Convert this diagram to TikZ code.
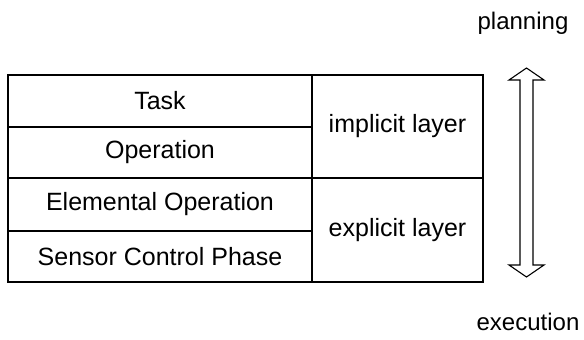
\documentclass[tikz,border=0pt]{standalone}
\usepackage{fontspec}
\setmainfont{Liberation Sans}
\begin{document}
\begin{tikzpicture}[x=1pt,y=-1pt,
  cell/.style={draw=black, line width=1.1pt, inner sep=0pt, outer sep=0pt,
    font=\fontsize{25}{28}\selectfont},
  lbl/.style={inner sep=0pt, font=\fontsize{24}{28}\selectfont}]
\useasboundingbox (0,0) rectangle (584,340);
% left column: four levels
\node[cell, minimum width=304pt, minimum height=52pt] (task) at (160,101) {Task};
\node[cell, minimum width=304pt, minimum height=51pt] (oper) at (160,152.5) {Operation};
\node[cell, minimum width=304pt, minimum height=53pt] (elem) at (160,204.5) {Elemental Operation};
\node[cell, minimum width=304pt, minimum height=51pt] (sens) at (160,256.5) {Sensor Control Phase};
% right column: layers
\node[cell, minimum width=171pt, minimum height=103pt] (impl) at (397.5,126.5) {implicit layer};
\node[cell, minimum width=171pt, minimum height=104pt] (expl) at (397.5,230) {explicit layer};
% hollow double-headed arrow
\draw[line width=1.1pt, line join=miter]
  (526.5,68) -- (544,80) -- (533,80) -- (533,265) -- (544,265) -- (526.5,277)
  -- (509,265) -- (520,265) -- (520,80) -- (509,80) -- cycle;
\node[lbl] (plan) at (523,23) {planning};
\node[lbl] (exec) at (528,322) {execution};
\end{tikzpicture}
\end{document}
